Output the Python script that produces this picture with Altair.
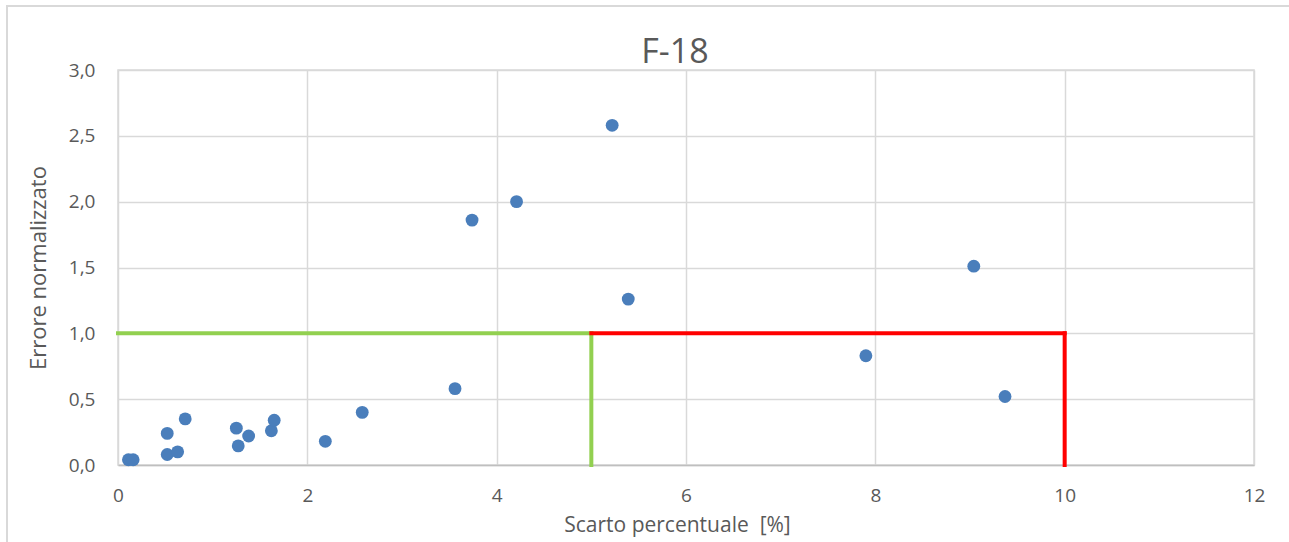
import altair as alt
import pandas as pd

# Measured points: percentage deviation vs normalised error
scarto = [0.11, 0.16, 0.52, 0.63, 0.52, 0.71, 1.25, 1.38, 1.27, 1.62, 1.65,
          2.19, 2.58, 3.56, 3.74, 4.21, 5.22, 5.39, 7.90, 9.04, 9.37]
errore = [0.04, 0.04, 0.08, 0.10, 0.24, 0.35, 0.28, 0.22, 0.145, 0.26, 0.34,
          0.18, 0.40, 0.58, 1.86, 2.00, 2.58, 1.26, 0.83, 1.51, 0.52]

# Acceptance limits (green: |En|<=1 and scarto<=5%, red: up to 10%)
seg_x = [0, 5, 5, 10]
seg_x2 = [5, 5, 10, 10]
seg_y = [1, 0, 1, 0]
seg_y2 = [1, 1, 1, 1]
seg_color = ["#92D050", "#92D050", "#FF0000", "#FF0000"]

W, H = 1136, 395
FONT = "Open Sans"
GREY = "#595959"

points = pd.DataFrame({"scarto": scarto, "errore": errore})
limits = pd.DataFrame({"x": seg_x, "x2": seg_x2, "y": seg_y, "y2": seg_y2, "c": seg_color})

x_scale = alt.Scale(domain=[0, 12], nice=False, zero=False)
y_scale = alt.Scale(domain=[0, 3], nice=False, zero=False)

# light border around the whole chart area
frame = alt.Chart(alt.Data(values=[{}])).mark_rect(
    filled=False, stroke="#D9D9D9", strokeWidth=2
).encode(
    x=alt.value(-111), x2=alt.value(W + 80),
    y=alt.value(-64), y2=alt.value(H + 120),
)

# chart title
title = alt.Chart(alt.Data(values=[{"t": "F-18"}])).mark_text(
    font=FONT, fontSize=34, color=GREY, align="center", baseline="alphabetic"
).encode(
    x=alt.value(557), y=alt.value(-7), text="t:N",
)

x_axis = alt.Axis(
    values=[0, 2, 4, 6, 8, 10, 12], format="d",
    title="Scarto percentuale\u00a0 [%]",
    titleX=559, titleY=60, titleAlign="center", titleBaseline="middle",
    titleFontSize=21, labelPadding=21, labelFlush=False,
)
y_axis = alt.Axis(
    values=[0, 0.5, 1, 1.5, 2, 2.5, 3], title="Errore normalizzato",
    labelExpr="replace(format(datum.value, '.1f'), '.', ',')",
    titleX=-80, titleY=H / 2, titleAngle=-90, titleAlign="center",
    titleBaseline="middle", labelPadding=23, labelFlush=False, domain=False,
)

lines = alt.Chart(limits).mark_rule(strokeWidth=4, strokeCap="square").encode(
    x=alt.X("x:Q", scale=x_scale, axis=x_axis),
    x2="x2:Q",
    y=alt.Y("y:Q", scale=y_scale, axis=y_axis),
    y2="y2:Q",
    color=alt.Color("c:N", scale=None),
)

dots = alt.Chart(points).mark_circle(size=165, opacity=1, color="#4A7EBB").encode(
    x=alt.X("scarto:Q", scale=x_scale),
    y=alt.Y("errore:Q", scale=y_scale),
)

chart = alt.layer(frame, title, lines, dots).properties(
    width=W, height=H, background="white",
    autosize=alt.AutoSizeParams(type="none"),
    padding={"left": 118, "top": 70, "right": 35, "bottom": 77},
).configure_view(
    stroke="#D9D9D9", strokeWidth=1.5
).configure_axis(
    grid=True, gridColor="#D9D9D9", gridWidth=1.5, ticks=False,
    labelFont=FONT, labelFontSize=19, labelColor=GREY,
    titleFont=FONT, titleFontSize=22, titleColor=GREY, titleFontWeight="normal",
    domainColor="#BFBFBF", domainWidth=1.5,
)

chart.save("out.html", embed_options={"renderer": "svg", "actions": False})
